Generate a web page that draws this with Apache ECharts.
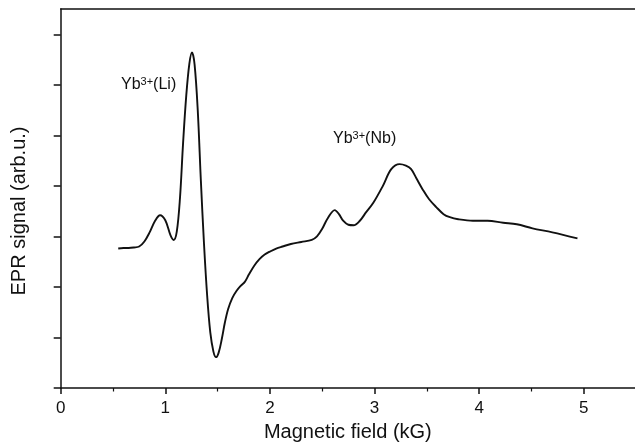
<!DOCTYPE html>
<html>
<head>
<meta charset="utf-8">
<script src="https://cdn.jsdelivr.net/npm/echarts@6/dist/echarts.min.js"></script>
<style>
  html, body { margin: 0; padding: 0; background: #fff; }
  #chart { width: 635px; height: 447px; }
</style>
</head>
<body>
<div id="chart"></div>
<script>
// EPR spectrum of Yb3+ centres: magnetic field (kG) vs. signal (arb. units)
var fieldKG = [
  0.55, 0.60, 0.65, 0.70, 0.75, 0.80, 0.85, 0.90, 0.95, 1.00,
  1.05, 1.08, 1.11, 1.14, 1.17, 1.20, 1.23, 1.255, 1.28, 1.31,
  1.34, 1.37, 1.40, 1.43, 1.46, 1.485, 1.51, 1.54, 1.57, 1.60,
  1.64, 1.68, 1.72, 1.76, 1.80, 1.85, 1.90, 1.95, 2.00, 2.06,
  2.12, 2.20, 2.30, 2.40, 2.45, 2.50, 2.55, 2.62, 2.66, 2.70,
  2.75, 2.80, 2.86, 2.92, 2.99, 3.08, 3.16, 3.24, 3.30, 3.35,
  3.40, 3.46, 3.52, 3.59, 3.66, 3.72, 3.80, 3.94, 4.08, 4.23,
  4.36, 4.51, 4.70, 4.94
];
var signal = [
  2.76, 2.77, 2.77, 2.78, 2.80, 2.90, 3.08, 3.30, 3.42, 3.32,
  3.02, 2.93, 3.10, 3.75, 4.85, 5.78, 6.42, 6.64, 6.40, 5.50,
  4.10, 2.85, 1.83, 1.10, 0.72, 0.61, 0.70, 0.97, 1.30, 1.56,
  1.78, 1.92, 2.02, 2.10, 2.25, 2.42, 2.55, 2.64, 2.70, 2.76,
  2.80, 2.85, 2.89, 2.93, 3.00, 3.15, 3.35, 3.52, 3.44, 3.31,
  3.23, 3.22, 3.31, 3.48, 3.67, 4.00, 4.33, 4.43, 4.40, 4.33,
  4.15, 3.93, 3.74, 3.58, 3.44, 3.38, 3.34, 3.31, 3.31, 3.27,
  3.24, 3.16, 3.08, 2.96
];
var xMajorTicks = [0, 1, 2, 3, 4, 5];
var xMinorTicks = [0.5, 1.5, 2.5, 3.5, 4.5];
var yTicks = [0, 1, 2, 3, 4, 5, 6, 7];

var FONT = 'Liberation Sans, Arial, sans-serif';
var INK = '#111';
var X_MAX = 5.49;

var points = fieldKG.map(function (x, i) { return [x, signal[i]]; });

var chart = echarts.init(document.getElementById('chart'), null, { renderer: 'canvas' });

var axisLineStyle = { color: INK, width: 1.5 };

chart.setOption({
  animation: false,
  backgroundColor: '#fff',
  grid: { left: 60.7, top: 9, right: 0, bottom: 57.7 },
  xAxis: [{
    // main field axis: major ticks and labels
    type: 'value', min: 0, max: X_MAX, position: 'bottom',
    axisLine: { onZero: false, lineStyle: axisLineStyle },
    axisTick: { customValues: xMajorTicks, length: 6, lineStyle: axisLineStyle },
    axisLabel: { customValues: xMajorTicks, fontSize: 17, color: INK, margin: 12, fontFamily: FONT },
    splitLine: { show: false },
    name: 'Magnetic field (kG)', nameLocation: 'middle', nameGap: 34,
    nameTextStyle: { fontSize: 20, color: INK, fontFamily: FONT }
  }, {
    // half-kG minor ticks
    type: 'value', min: 0, max: X_MAX, position: 'bottom',
    axisLine: { show: false },
    axisTick: { customValues: xMinorTicks, length: 3.5, lineStyle: { color: INK, width: 1.2 } },
    axisLabel: { show: false },
    splitLine: { show: false }
  }, {
    // top frame line
    type: 'value', min: 0, max: X_MAX, position: 'top',
    axisLine: { onZero: false, lineStyle: axisLineStyle },
    axisTick: { show: false },
    axisLabel: { show: false },
    splitLine: { show: false }
  }],
  yAxis: {
    type: 'value', min: 0, max: 7.5,
    axisLine: { onZero: false, lineStyle: axisLineStyle },
    axisTick: { customValues: yTicks, length: 7, lineStyle: axisLineStyle },
    axisLabel: { show: false },
    splitLine: { show: false }
  },
  series: [{
    type: 'line',
    xAxisIndex: 0,
    data: points,
    smooth: 0.35,
    showSymbol: false,
    lineStyle: { color: INK, width: 1.9 }
  }],
  graphic: [{
    type: 'text',
    x: 19, y: 211, rotation: Math.PI / 2,
    style: {
      text: 'EPR signal (arb.u.)', fill: INK,
      font: '20px ' + FONT, align: 'center', verticalAlign: 'middle'
    }
  }, {
    type: 'text',
    x: 121, y: 85,
    style: {
      text: '{b|Yb}{s|3+}{b|(Li)}',
      verticalAlign: 'middle',
      rich: {
        b: { fontSize: 16, fontFamily: FONT, fill: INK, lineHeight: 18 },
        s: { fontSize: 11, fontFamily: FONT, fill: INK, lineHeight: 18, verticalAlign: 'top' }
      }
    }
  }, {
    type: 'text',
    x: 333, y: 139,
    style: {
      text: '{b|Yb}{s|3+}{b|(Nb)}',
      verticalAlign: 'middle',
      rich: {
        b: { fontSize: 16, fontFamily: FONT, fill: INK, lineHeight: 18 },
        s: { fontSize: 11, fontFamily: FONT, fill: INK, lineHeight: 18, verticalAlign: 'top' }
      }
    }
  }]
});
</script>
</body>
</html>
